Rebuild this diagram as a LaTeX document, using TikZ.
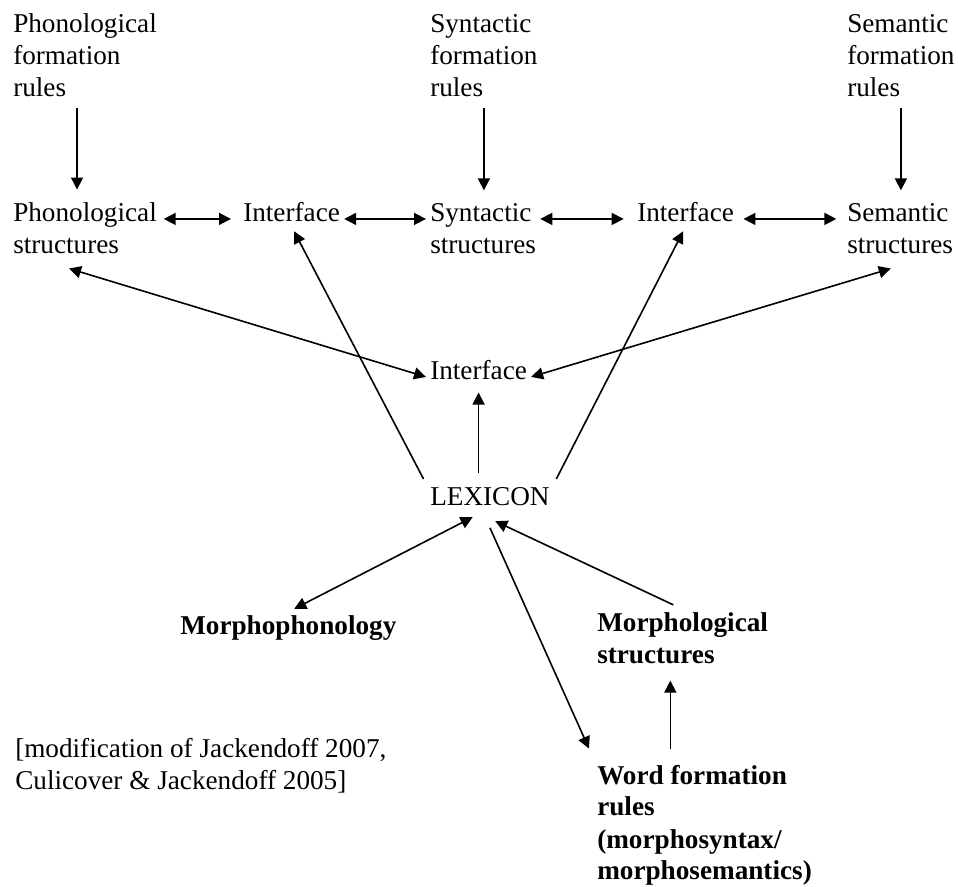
\documentclass[tikz,border=0pt]{standalone}
\usepackage{fontspec}
\setmainfont{Liberation Serif}
\usetikzlibrary{arrows.meta}

\tikzset{
  lbl/.style={align=left, inner sep=3pt, anchor=base west, font=\fontsize{20.4pt}{24pt}\selectfont},
  blbl/.style={lbl, font=\fontsize{20.4pt}{24pt}\selectfont\bfseries},
  arr/.style={line width=1.2pt, -{Triangle[length=9pt,width=9pt]}},
  darr/.style={line width=1.2pt, {Triangle[length=9pt,width=9pt]}-{Triangle[length=9pt,width=9pt]}}
}

\begin{document}
\begin{tikzpicture}[x=0.75pt, y=-0.75pt]
\useasboundingbox (0,0) rectangle (958,887);

% formation rules (base = last line)
\node [lbl] (phonrules) at (9,97) {Phonological\\formation\\rules};
\node [lbl] (synrules) at (426,97) {Syntactic\\formation\\rules};
\node [lbl] (semrules) at (843,97) {Semantic\\formation\\rules};

% structures and interfaces
\node [lbl] (phonstr) at (9,254) {Phonological\\structures};
\node [lbl] (iface1) at (239,222) {Interface};
\node [lbl] (synstr) at (426,254) {Syntactic\\structures};
\node [lbl] (iface2) at (633,222) {Interface};
\node [lbl] (semstr) at (843,254) {Semantic\\structures};

\node [lbl] (iface) at (426,380) {Interface};
\node [lbl] (lex) at (426,506) {LEXICON};

% morphology
\node [blbl] (morphphon) at (176,635) {Morphophonology};
\node [blbl] (morphstr) at (593,664) {Morphological\\structures};
\node [blbl] (wf) at (593,880) {Word formation\\rules\\(morphosyntax/\\morphosemantics)};

\node [lbl] (note) at (11,790) {[modification of Jackendoff 2007,\\Culicover \& Jackendoff 2005]};

\draw [arr, shorten <=5pt, shorten >=7pt] ([xshift=-6pt]phonrules.south) -- ([xshift=-6pt]phonstr.north);
\draw [arr, shorten <=5pt, shorten >=7pt] (synrules.south) -- (synrules.south |- synstr.north);
\draw [arr, shorten <=5pt, shorten >=7pt] (semrules.south) -- (semrules.south |- semstr.north);

\draw [darr, shorten <=2pt, shorten >=6pt] (phonstr.east |- iface1.mid) -- (iface1.mid west);
\draw [darr] (iface1.mid east) -- (iface1.mid east -| synstr.west);
\draw [darr, shorten >=7pt] (synstr.east |- iface2.mid) -- (iface2.mid west);
\draw [darr, shorten <=4pt, shorten >=5pt] (iface2.mid east) -- (iface2.mid east -| semstr.west);

\draw [darr] ([xshift=-12pt,yshift=-7.5pt]phonstr.south) -- (iface.mid west);
\draw [darr] ([xshift=-7pt,yshift=-7.5pt]semstr.south) -- (iface.mid east);

\draw [arr, shorten <=8pt, shorten >=6pt] (lex.north -| iface.south) -- (iface.south);
\draw [arr, shorten <=4pt, shorten >=4pt] (lex.north west) -- (iface1.south);
\draw [arr, shorten <=4pt, shorten >=4pt] (lex.north east) -- (iface2.south);

\draw [darr, shorten >=5pt] ([xshift=-13pt,yshift=-5pt]lex.south) -- (morphphon.north);
\draw [arr] ([xshift=-7pt,yshift=3pt]morphstr.north) -- ([xshift=4pt,yshift=-8pt]lex.south);
\draw [arr] ([yshift=-13pt]lex.south) -- ([xshift=-3pt,yshift=9pt]wf.north west);
\draw [arr] ([xshift=58pt,yshift=9pt]wf.north west) -- ([xshift=58pt,yshift=-9pt]morphstr.south west);
\end{tikzpicture}
\end{document}
